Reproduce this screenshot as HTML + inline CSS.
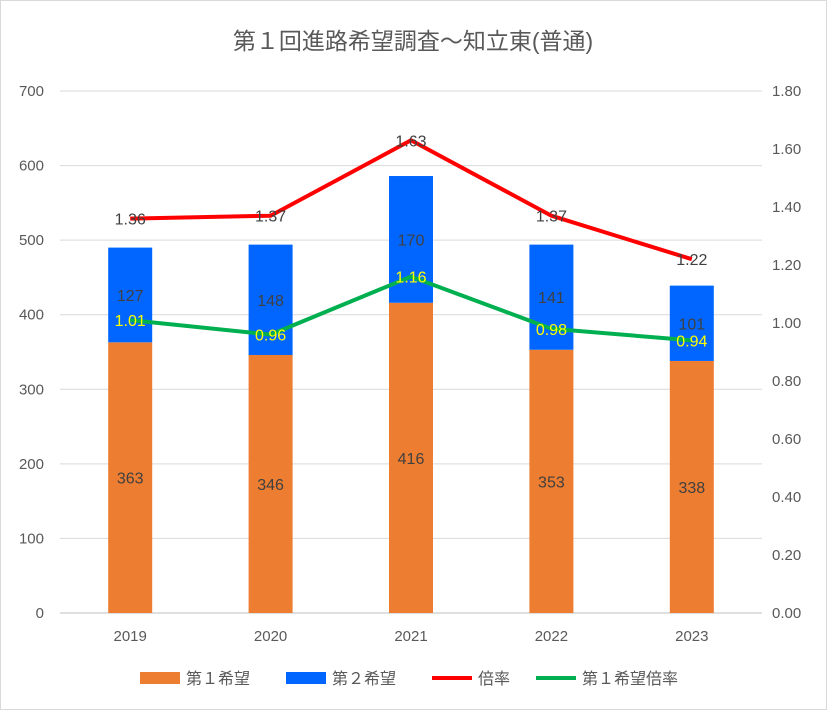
<!DOCTYPE html>
<html><head><meta charset="utf-8">
<style>
body{margin:0;background:#fff;}
svg{display:block;font-family:"Liberation Sans","Noto Sans CJK JP",sans-serif;}
</style></head>
<body>
<svg id="chart" width="827" height="710" xmlns="http://www.w3.org/2000/svg">
<rect x="0.5" y="0.5" width="826" height="709" fill="#fff" stroke="#d9d9d9"/>
<text x="413" y="49" text-anchor="middle" font-size="23" fill="#595959">第１回進路希望調査～知立東(普通)</text>
<g id="grid"></g><g id="bars"></g><g id="lines"></g><g id="labels"></g><g id="axes"></g>
<g>
<rect x="140" y="672" width="40" height="12" fill="#ed7d31"/>
<text x="186" y="684" font-size="16" fill="#595959">第１希望</text>
<rect x="286" y="672" width="40" height="12" fill="#0066ff"/>
<text x="332" y="684" font-size="16" fill="#595959">第２希望</text>
<line x1="432" y1="678" x2="472" y2="678" stroke="#ff0000" stroke-width="4"/>
<text x="478" y="684" font-size="16" fill="#595959">倍率</text>
<line x1="536" y1="678" x2="576" y2="678" stroke="#00b050" stroke-width="4"/>
<text x="582" y="684" font-size="16" fill="#595959">第１希望倍率</text>
</g>
</svg>
<script>
const categories=["2019","2020","2021","2022","2023"];
const firstChoice=[363,346,416,353,338];
const secondChoice=[127,148,170,141,101];
const ratio=[1.36,1.37,1.63,1.37,1.22];
const firstRatio=[1.01,0.96,1.16,0.98,0.94];
const leftTicks=[0,100,200,300,400,500,600,700];
const rightTicks=["0.00","0.20","0.40","0.60","0.80","1.00","1.20","1.40","1.60","1.80"];

const NS="http://www.w3.org/2000/svg";
const X0=60,X1=762,Y0=613,Y1=91;
const catW=(X1-X0)/categories.length;
const xC=i=>X0+catW*(i+0.5);
const yL=v=>Y0-(v/700)*(Y0-Y1);
const yR=v=>Y0-(v/1.8)*(Y0-Y1);
function mk(tag,attrs,parent){const e=document.createElementNS(NS,tag);for(const k in attrs)e.setAttribute(k,attrs[k]);document.getElementById(parent).appendChild(e);return e;}

leftTicks.forEach(t=>{
  const g=mk("line",{x1:X0,x2:X1,y1:yL(t),y2:yL(t),stroke:t===0?"#bfbfbf":"#d9d9d9","stroke-width":1},"grid");
  
  
  const l=mk("text",{x:44,y:yL(t)+5,"text-anchor":"end","font-size":15,fill:"#595959"},"axes");
  l.textContent=t;
  
  
});
rightTicks.forEach(t=>{
  const l=mk("text",{x:772,y:yR(parseFloat(t))+5,"font-size":15,fill:"#595959"},"axes");
  l.textContent=t;
  
  
});
categories.forEach((c,i)=>{
  const l=mk("text",{x:xC(i),y:641,"text-anchor":"middle","font-size":15,fill:"#595959"},"axes");
  l.textContent=c;
  
  
  const bw=44;
  const b1=mk("rect",{x:xC(i)-bw/2,y:yL(firstChoice[i]),width:bw,height:Y0-yL(firstChoice[i]),fill:"#ed7d31"},"bars");
  
  
  const top=firstChoice[i]+secondChoice[i];
  const b2=mk("rect",{x:xC(i)-bw/2,y:yL(top),width:bw,height:yL(firstChoice[i])-yL(top),fill:"#0066ff"},"bars");
  
  
  const t1=mk("text",{x:xC(i),y:(Y0+yL(firstChoice[i]))/2+6,"text-anchor":"middle","font-size":16,fill:"#404040"},"labels");
  t1.textContent=firstChoice[i];
  
  
  const t2=mk("text",{x:xC(i),y:(yL(firstChoice[i])+yL(top))/2+6,"text-anchor":"middle","font-size":16,fill:"#404040"},"labels");
  t2.textContent=secondChoice[i];
  
  
});
function line(arr,color,name,labelColor){
  const p=mk("polyline",{points:arr.map((v,i)=>xC(i)+","+yR(v)).join(" "),fill:"none",stroke:color,"stroke-width":4,"stroke-linejoin":"round"},"lines");
  
  
  arr.forEach((v,i)=>{
    const t=mk("text",{x:xC(i),y:yR(v)+6,"text-anchor":"middle","font-size":16,fill:labelColor},"labels");
    t.textContent=v.toFixed(2);
    
    
  });
}
line(ratio,"#ff0000","ratio-line","#404040");
line(firstRatio,"#00b050","first-ratio-line","#ffff00");
</script>
</body></html>
